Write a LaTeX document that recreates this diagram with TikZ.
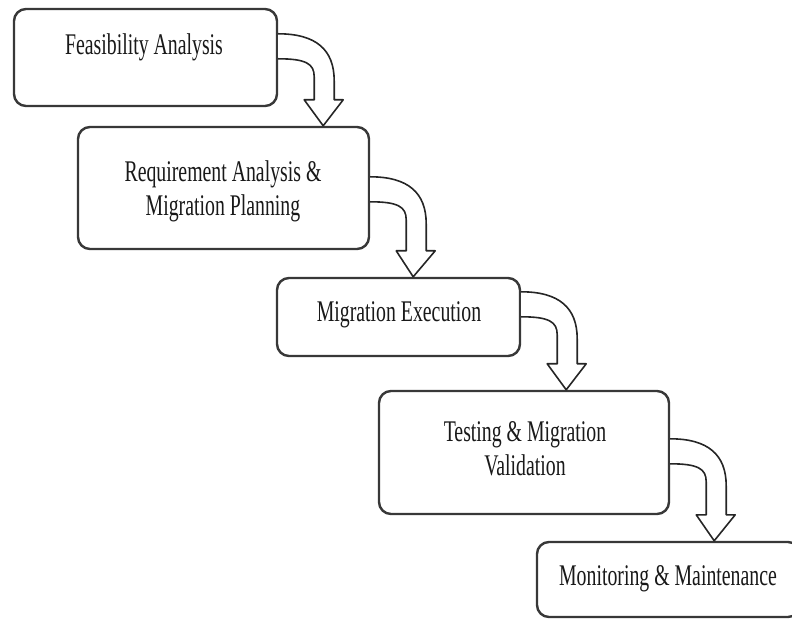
\documentclass[tikz,border=0pt]{standalone}
\usepackage{fontspec}
\setmainfont{Liberation Serif}[FakeStretch=0.66]
\usetikzlibrary{calc}

\tikzset{
  stagebox/.style={draw=black!78, line width=2.4pt, rounded corners=12pt,
    fill=white, inner sep=0pt},
  stagetext/.style={font=\fontsize{30}{34}\selectfont, align=center,
    inner sep=0pt, text=black!90},
  turnarrow/.style={draw=black!85, line width=1.6pt, line join=round, fill=white}
}

% bent block arrow leaving a box side at #1 and pointing down to #2
\newcommand\bentarrow[2]{%
  \filldraw[turnarrow] let \p1=(#1), \p2=(#2) in
    (\p1) .. controls (\x1+38pt,\y1) and (\x1+56pt,\y1-16pt) .. (\x1+56pt,\y1-47pt)
    -- (\x1+56pt,\y2+26pt) -- (\x1+65pt,\y2+26pt) -- (\p2)
    -- (\x1+26pt,\y2+26pt) -- (\x1+36pt,\y2+26pt) -- (\x1+36pt,\y1-43pt)
    .. controls (\x1+36pt,\y1-30pt) and (\x1+28pt,\y1-25pt) .. (\x1,\y1-25pt);
}

\begin{document}
\begin{tikzpicture}[x=1pt, y=1pt]
\useasboundingbox (0,0) rectangle (792,619);
\clip (0,0) rectangle (792,619);

% stage boxes
\node[stagebox, minimum width=263pt, minimum height=97pt]  (b1) at (145.5,561.5) {};
\node[stagebox, minimum width=291pt, minimum height=122pt] (b2) at (223.5,431) {};
\node[stagebox, minimum width=243pt, minimum height=78pt]  (b3) at (398.5,302) {};
\node[stagebox, minimum width=290pt, minimum height=123pt] (b4) at (524,166.5) {};
\node[stagebox, minimum width=263pt, minimum height=75pt]  (b5) at (668.5,39.5) {};

% stage names
\node[stagetext, anchor=base] (t1) at (144,564) {Feasibility Analysis};
\node[stagetext] (t2) at (223,428) {Requirement Analysis \&\\Migration Planning};
\node[stagetext, anchor=base] (t3) at (399,297) {Migration Execution};
\node[stagetext] (t4) at (525,170) {Testing \& Migration\\Validation};
\node[stagetext, anchor=base] (t5) at (668,34) {Monitoring \& Maintenance};

% arrow start points on the box sides and tips on the next box tops
\coordinate (s1) at ($(b1.north east)+(0,-26)$);
\coordinate (s2) at ($(b2.north east)+(0,-51)$);
\coordinate (s3) at ($(b3.north east)+(0,-15)$);
\coordinate (s4) at ($(b4.north east)+(0,-49)$);
\coordinate (x1) at ($(s1)+(45,0)$);
\coordinate (x2) at ($(s2)+(43,0)$);
\coordinate (x3) at ($(s3)+(45,0)$);
\coordinate (x4) at ($(s4)+(44,0)$);
\coordinate (e1) at (x1 |- b2.north);
\coordinate (e2) at (x2 |- b3.north);
\coordinate (e3) at (x3 |- b4.north);
\coordinate (e4) at (x4 |- b5.north);

\bentarrow{s1}{e1}
\bentarrow{s2}{e2}
\bentarrow{s3}{e3}
\bentarrow{s4}{e4}
\end{tikzpicture}
\end{document}
